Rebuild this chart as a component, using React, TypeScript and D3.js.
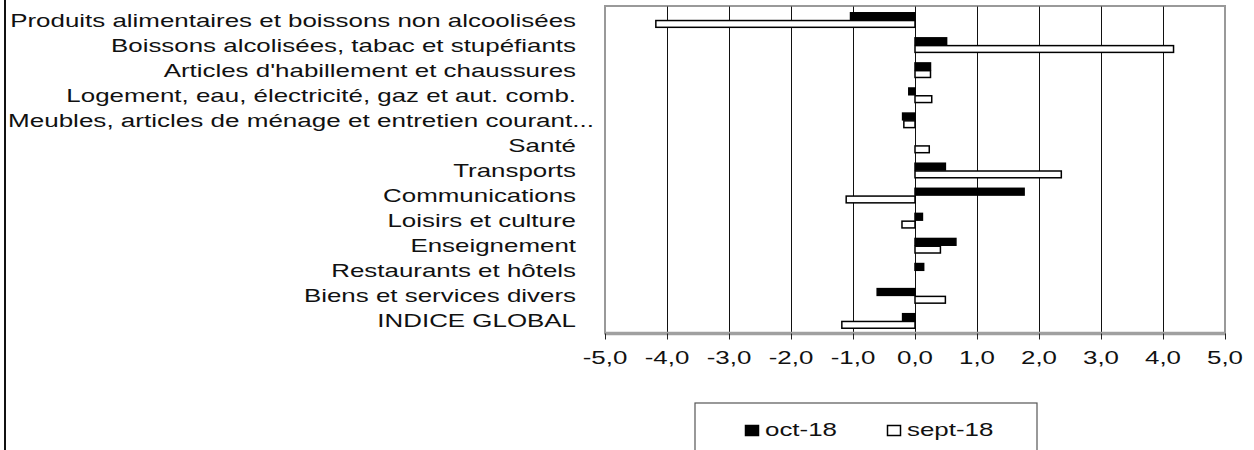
import React, { useEffect, useRef } from 'react';
import * as d3 from 'd3';

const categories = [
  "Produits alimentaires et boissons non alcoolisées",
  "Boissons alcolisées, tabac et stupéfiants",
  "Articles d'habillement et chaussures",
  "Logement, eau, électricité, gaz et aut. comb.",
  "Meubles, articles de ménage et entretien courant...",
  "Santé",
  "Transports",
  "Communications",
  "Loisirs et culture",
  "Enseignement",
  "Restaurants et hôtels",
  "Biens et services divers",
  "INDICE GLOBAL",
];

const seriesNames = ["oct-18", "sept-18"];
const oct18 = [-1.04, 0.51, 0.25, -0.1, -0.2, 0.0, 0.49, 1.76, 0.12, 0.66, 0.14, -0.61, -0.2];
const sept18 = [-4.18, 4.17, 0.25, 0.27, -0.18, 0.23, 2.36, -1.11, -0.21, 0.41, 0.0, 0.49, -1.18];
const xTicks = [-5, -4, -3, -2, -1, 0, 1, 2, 3, 4, 5];

const FONT = "'Liberation Sans', Arial, sans-serif";
const SX = 1.44; // the source picture is stretched horizontally

const App: React.FC = () => {
  const svgRef = useRef<SVGSVGElement>(null);

  useEffect(() => {
    if (!svgRef.current) return;
    const svg = d3.select(svgRef.current);
    svg.selectAll("*").remove();

    const plot = { left: 605, right: 1225, top: 7.5, bottom: 333.5 };

    const x = d3.scaleLinear().domain([-5, 5]).range([plot.left, plot.right]);
    const y = d3.scaleBand<string>()
      .domain(categories)
      .range([plot.top, plot.bottom])
      .paddingInner(0.38)
      .paddingOuter(0.19);
    const inner = d3.scaleBand<string>().domain(seriesNames).range([0, y.bandwidth()]);

    // outer frame line on the left
    svg.append("line")
      .attr("x1", 5).attr("x2", 5).attr("y1", 0).attr("y2", 450)
      .attr("stroke", "#111").attr("stroke-width", 2);

    // plot border
    svg.append("rect")
      .attr("x", plot.left).attr("y", plot.top - 1.5)
      .attr("width", plot.right - plot.left).attr("height", plot.bottom - plot.top + 1.5)
      .attr("fill", "none").attr("stroke", "#999").attr("stroke-width", 2);

    // grid lines
    svg.append("g")
      .selectAll("line")
      .data(xTicks.filter(t => t > -5 && t < 5))
      .join("line")
      .attr("x1", d => x(d) + 0.5).attr("x2", d => x(d) + 0.5)
      .attr("y1", plot.top - 1).attr("y2", plot.bottom)
      .attr("stroke", "#111").attr("stroke-width", 1);

    // bars
    const series = [
      { name: "oct-18", values: oct18, fill: "#000" },
      { name: "sept-18", values: sept18, fill: "#fff" },
    ];
    series.forEach(s => {
      svg.append("g")
        .selectAll("rect")
        .data(categories)
        .join("rect")
        .attr("x", (_d, i) => x(Math.min(0, s.values[i])))
        .attr("y", d => (y(d) as number) + (inner(s.name) as number) + 0.5)
        .attr("width", (_d, i) => Math.abs(x(s.values[i]) - x(0)))
        .attr("height", inner.bandwidth() - 1)
        .attr("fill", s.fill)
        .attr("stroke", "#000")
        .attr("stroke-width", 1.5);
    });

    // axis line and ticks
    svg.append("line")
      .attr("x1", plot.left).attr("x2", plot.right)
      .attr("y1", plot.bottom).attr("y2", plot.bottom)
      .attr("stroke", "#a0a0a0").attr("stroke-width", 3.5);
    svg.append("g")
      .selectAll("line")
      .data(xTicks)
      .join("line")
      .attr("x1", d => x(d) + 0.5).attr("x2", d => x(d) + 0.5)
      .attr("y1", plot.bottom).attr("y2", plot.bottom + 6)
      .attr("stroke", "#222").attr("stroke-width", 1);

    const fmt = (v: number) => v.toFixed(1).replace(".", ",");
    svg.append("g")
      .selectAll("text")
      .data(xTicks)
      .join("text")
      .attr("transform", d => `translate(${x(d)},364) scale(${SX},1)`)
      .attr("text-anchor", "middle")
      .attr("font-family", FONT)
      .attr("font-size", 18)
      .attr("fill", "#111")
      .text(d => fmt(d));

    // category labels (the truncated one is laid out from the left edge, like the source)
    svg.append("g")
      .selectAll("text")
      .data(categories)
      .join("text")
      .each(function (d) {
        const t = d3.select(this);
        const base = (y(d) as number) + y.bandwidth() / 2 + 6.5;
        if (d.endsWith("...")) {
          t.attr("x", 8).attr("y", base)
            .attr("textLength", 586).attr("lengthAdjust", "spacingAndGlyphs");
        } else {
          t.attr("transform", `translate(576,${base}) scale(${SX},1)`)
            .attr("text-anchor", "end");
        }
      })
      .attr("font-family", FONT)
      .attr("font-size", 18)
      .attr("fill", "#111")
      .text(d => d);

    // legend
    svg.append("rect")
      .attr("x", 695).attr("y", 403).attr("width", 342).attr("height", 60)
      .attr("fill", "#fff").attr("stroke", "#555").attr("stroke-width", 1.2);
    const legendItems = [
      { name: seriesNames[0], fill: "#000", x: 745 },
      { name: seriesNames[1], fill: "#fff", x: 887 },
    ];
    legendItems.forEach(it => {
      svg.append("rect")
        .attr("x", it.x + 0.5).attr("y", 425.5).attr("width", 13).attr("height", 10)
        .attr("fill", it.fill).attr("stroke", "#000").attr("stroke-width", 1.5);
      svg.append("text")
        .attr("transform", `translate(${it.x + 20},436) scale(${SX},1)`)
        .attr("font-family", FONT)
        .attr("font-size", 18)
        .attr("fill", "#111")
        .text(it.name);
    });
  }, []);

  return (
    <div style={{ position: "absolute", left: 0, top: 0, width: 1254, height: 450, background: "#fff" }}>
      <svg ref={svgRef} width={1254} height={450} style={{ display: "block" }} />
    </div>
  );
};

export default App;
